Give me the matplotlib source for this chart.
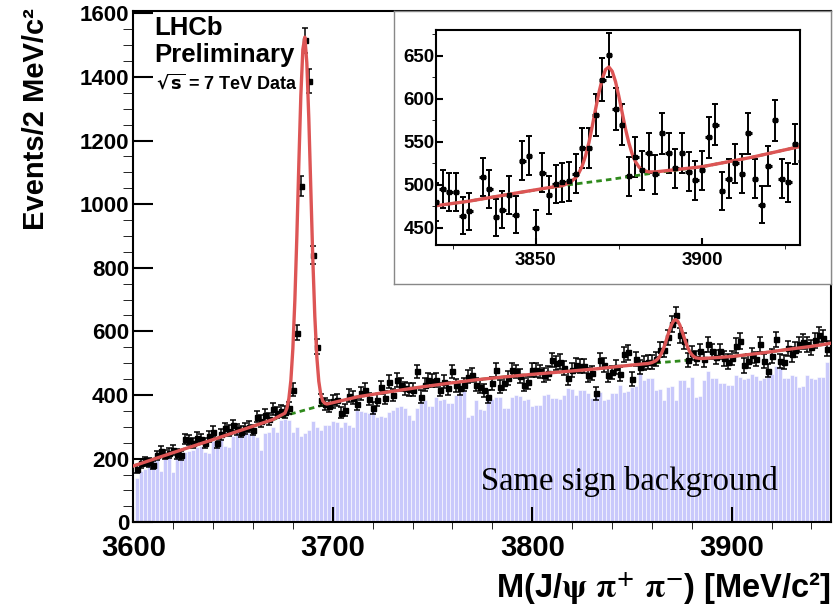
import numpy as np
import matplotlib
matplotlib.use('Agg')
import matplotlib.pyplot as plt
from matplotlib.ticker import MultipleLocator

plt.rcParams['font.family'] = ['Liberation Sans', 'DejaVu Sans']
plt.rcParams['font.weight'] = 'bold'

# events per 2 MeV/c^2, bin centres 3602 ... 3948
mass = np.arange(3602, 3950, 2)
events = [168, 185, 190, 188, 180, 210, 225, 212, 218, 228,
          215, 210, 262, 258, 248, 266, 262, 250, 270, 285,
          250, 276, 295, 288, 305, 292, 285, 296, 300, 290,
          332, 318, 337, 325, 356, 345, 350, 346, 360, 416,
          596, 1057, 1515, 1386, 840, 552, 385, 372, 365, 380,
          385, 345, 352, 398, 392, 372, 405, 416, 388, 358,
          385, 425, 392, 442, 400, 447, 432, 421, 418, 416,
          474, 395, 432, 447, 445, 447, 416, 442, 421, 474,
          430, 421, 432, 458, 463, 432, 426, 415, 395, 437,
          479, 426, 437, 453, 479, 474, 460, 432, 440, 479,
          479, 474, 463, 470, 510, 500, 505, 484, 453, 480,
          495, 492, 492, 464, 469, 405, 509, 495, 462, 471,
          488, 465, 528, 534, 450, 514, 488, 501, 503, 504,
          513, 543, 543, 581, 622, 651, 588, 570, 510, 532,
          517, 537, 512, 560, 537, 519, 537, 515, 505, 517,
          555, 570, 493, 507, 525, 513, 560, 507, 477, 522,
          575, 507, 503, 547, 528, 542, 560, 568, 560, 550,
          572, 590, 580, 545]

# same sign background histogram, same bins
same_sign = [140, 160, 168, 190, 192, 196, 160, 200, 204, 158,
             215, 200, 222, 225, 228, 238, 240, 222, 218, 254,
             250, 262, 240, 238, 270, 300, 295, 290, 280, 290,
             268, 226, 280, 285, 300, 285, 322, 324, 322, 285,
             300, 270, 282, 290, 318, 300, 290, 306, 305, 318,
             316, 300, 316, 306, 300, 354, 350, 348, 345, 364,
             332, 334, 330, 348, 352, 362, 364, 360, 337, 322,
             358, 380, 384, 364, 366, 395, 384, 386, 374, 376,
             400, 405, 416, 332, 336, 384, 355, 352, 385, 386,
             395, 394, 358, 360, 395, 400, 398, 385, 386, 364,
             369, 370, 400, 402, 392, 390, 388, 400, 421, 420,
             400, 416, 415, 405, 390, 411, 410, 385, 386, 405,
             405, 432, 411, 412, 426, 428, 469, 448, 453, 452,
             416, 418, 385, 426, 428, 385, 448, 446, 426, 458,
             395, 398, 448, 474, 453, 452, 437, 438, 432, 433,
             463, 458, 450, 455, 466, 460, 448, 455, 462, 466,
             490, 488, 455, 452, 463, 460, 426, 428, 463, 453,
             450, 458, 456, 505]

# background component of the fit (green dashed)
bkg_x = [3600, 3620, 3640, 3660, 3677, 3697, 3713, 3728, 3743, 3758, 3772, 3786,
         3800, 3815, 3830, 3845, 3860, 3872, 3886, 3900, 3915, 3930, 3940, 3950]
bkg_y = [177, 219, 260, 302, 337, 372, 395, 410, 424, 437, 448, 457,
         465, 473, 481, 491, 500, 506, 514, 521, 532, 545, 553, 563]

# total fit (red)
fit_x = [3600, 3620, 3640, 3660, 3670,
         3676, 3677, 3678, 3679, 3680, 3681, 3682, 3683, 3684, 3685, 3686,
         3687, 3688, 3689, 3690, 3691, 3692, 3693, 3694, 3695, 3696, 3697, 3698,
         3713, 3728, 3743, 3758, 3772, 3786, 3800, 3815, 3830, 3845, 3856,
         3858, 3860, 3862, 3863, 3864, 3865, 3866, 3867, 3868, 3869, 3870, 3871,
         3872, 3873, 3874, 3875, 3876, 3877, 3878, 3879, 3880, 3881, 3882, 3884,
         3886, 3900, 3915, 3930, 3940, 3950]
fit_y = [177, 219, 260, 302, 323,
         343, 358, 389, 446, 546, 698, 899, 1128, 1342, 1486, 1525,
         1444, 1268, 1047, 828, 648, 521, 443, 401, 381, 374, 372, 373,
         395, 410, 424, 437, 448, 457, 465, 473, 481, 491, 498,
         499, 502, 508, 514, 522, 534, 549, 568, 588, 607, 623, 634,
         637, 632, 620, 603, 584, 565, 549, 536, 527, 521, 517, 515,
         515, 521, 532, 545, 553, 563]

errors = np.sqrt(events)

W, H = 834, 610
fig = plt.figure(figsize=(W / 100, H / 100), dpi=100)

def box(x0, y0, x1, y1):
    return [x0 / W, 1 - y1 / H, (x1 - x0) / W, (y1 - y0) / H]

red = '#dd5555'
green = '#2f8a1c'

# ---- main plot ----
ax = fig.add_axes(box(133.3, 10.7, 831.4, 522.3))
ax.bar(mass, same_sign, width=2, color='#c9c9fb', edgecolor='white', linewidth=0.4, zorder=1)
ax.plot(bkg_x, bkg_y, color=green, lw=2, ls=(0, (2, 1.5)), zorder=2)
ax.errorbar(mass, events, yerr=errors, fmt='s', ms=3.6, color='black',
            elinewidth=1.1, capsize=2, capthick=1.1, zorder=3)
ax.plot(fit_x, fit_y, color=red, lw=2.4, zorder=4)
ax.set_xlim(3600, 3950)
ax.set_ylim(0, 1608)
ax.xaxis.set_major_locator(MultipleLocator(100))
ax.xaxis.set_minor_locator(MultipleLocator(20))
ax.yaxis.set_major_locator(MultipleLocator(200))
ax.yaxis.set_minor_locator(MultipleLocator(50))
ax.tick_params(direction='in', width=1.5, top=False, right=False)
ax.tick_params(axis='x', which='major', length=10.5, labelsize=21, pad=8.5)
ax.tick_params(axis='x', which='minor', length=5)
ax.tick_params(axis='y', which='major', length=14.5, labelsize=16, pad=3)
ax.tick_params(axis='y', which='minor', length=7)
for s in ax.spines.values():
    s.set_linewidth(1.5)

fig.text(36 / W, 1 - 8 / H, 'Events/2 MeV/c²', rotation=90, ha='center', va='top',
         fontsize=21, fontweight='bold')
fig.text(831 / W, 1 - 598 / H,
         r'M(J/$\mathrm{\psi}$ $\mathrm{\pi}^{+}$ $\mathrm{\pi}^{-}$) [MeV/c²]',
         ha='right', va='baseline', fontsize=23.5, fontweight='bold', math_fontfamily='stix')

fig.text(154 / W, 1 - 16 / H, 'LHCb', fontsize=18.5, va='top')
fig.text(154 / W, 1 - 43 / H, 'Preliminary', fontsize=18.5, va='top')
fig.text(156 / W, 1 - 73 / H, r'$\sqrt{\mathbf{s}}$ = 7 TeV Data', fontsize=13, va='top',
         math_fontfamily='dejavusans')
fig.text(481 / W, 1 - 490 / H, 'Same sign background', fontsize=23.5, fontweight='normal',
         family=['Liberation Serif'], va='baseline')

# ---- inset ----
frame = fig.add_axes(box(394, 10.7, 831.4, 284), zorder=5)
frame.set_xticks([])
frame.set_yticks([])
for s in frame.spines.values():
    s.set_color('#888888')
    s.set_linewidth(1)

ins = fig.add_axes(box(436, 30, 800, 245), zorder=6)
ins.errorbar(mass, events, xerr=1, fmt='none', ecolor='black', elinewidth=2.2, capsize=0)
ins.errorbar(mass, events, yerr=errors, fmt='s', ms=2.5, color='black',
             elinewidth=1.4, capsize=2.5, capthick=1.4)
ins.plot(bkg_x, bkg_y, color=green, lw=2, ls=(0, (2, 1.5)))
ins.plot(fit_x, fit_y, color=red, lw=2.4)
ins.set_xlim(3820, 3929.5)
ins.set_ylim(430, 680)
ins.xaxis.set_major_locator(MultipleLocator(50))
ins.xaxis.set_minor_locator(MultipleLocator(25))
ins.yaxis.set_major_locator(MultipleLocator(50))
ins.yaxis.set_minor_locator(MultipleLocator(25))
ins.tick_params(direction='in', width=1.5, labelsize=13.5, top=False, right=False)
ins.tick_params(which='major', length=5)
ins.tick_params(which='minor', length=3)
ins.tick_params(axis='y', pad=1)
ins.tick_params(axis='x', pad=5)
for s in ins.spines.values():
    s.set_linewidth(1.5)

fig.savefig('out.png', dpi=100)
